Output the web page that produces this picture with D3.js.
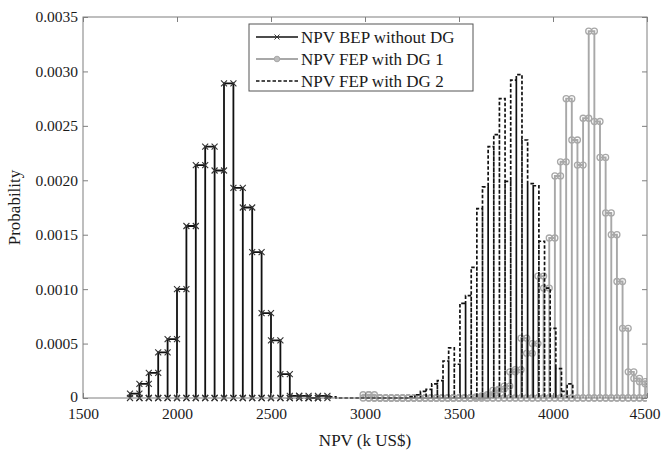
<!DOCTYPE html>
<html lang="en">
<head>
<meta charset="utf-8">
<title>NPV probability</title>
<script src="https://d3js.org/d3.v7.min.js"></script>
<style>
  body { margin: 0; background: #fff; }
  text { font-family: "Liberation Serif", "Times New Roman", serif; fill: #1a1a1a; }
  .frame { fill: none; stroke: #7f7f7f; stroke-width: 1px; }
</style>
</head>
<body>
<div id="chart"></div>
<script>
var width = 661, height = 469;

// axis ticks
var xTicks = [1500, 2000, 2500, 3000, 3500, 4000, 4500];
var yTicks = [0, 0.0005, 0.0010, 0.0015, 0.0020, 0.0025, 0.0030, 0.0035];
var yTickLabels = ["0", "0.0005", "0.0010", "0.0015", "0.0020", "0.0025", "0.0030", "0.0035"];

// NPV BEP without DG : bins of 50 starting at 1750
var bepStart = 1750, bepWidth = 50;
var bepValues = [0.00004, 0.00013, 0.00023, 0.00042, 0.00054, 0.00100, 0.00158, 0.00214,
  0.00231, 0.00209, 0.00289, 0.00193, 0.00175, 0.00134, 0.00078, 0.00053, 0.00022,
  0.00002, 0.00002, 0, 0.00002];

// NPV FEP with DG 1 : bins of 30 starting at 2990
var fep1Start = 2990, fep1Width = 30;
var fep1Values = [0.00003, 0.00003, 0, 0, 0, 0, 0, 0, 0, 0, 0, 0, 0, 0, 0, 0, 0, 0, 0, 0,
  0.00001, 0.00002,
  0.00003, 0.00007, 0.00008, 0.00011, 0.00024, 0.00026, 0.00055, 0.00041, 0.00050,
  0.00112, 0.00101, 0.00147, 0.00204, 0.00217, 0.00275, 0.00237, 0.00214, 0.00257,
  0.00337, 0.00254, 0.00221, 0.00170, 0.00150, 0.00107, 0.00064, 0.00024, 0.00018,
  0.00015, 0.00013];

// NPV FEP with DG 2 : bins of 30 starting at 2785
var fep2Start = 2785, fep2Width = 30;
var fep2Values = [0, 0.00001, 0, 0, 0, 0, 0, 0, 0, 0, 0, 0, 0, 0, 0, 0.00001,
  0.00003, 0.00006, 0.00008, 0.00013, 0.00016, 0.00034, 0.00046, 0.00031, 0.00087,
  0.00094, 0.00120, 0.00174, 0.00194, 0.00231, 0.00242, 0.00275, 0.00199, 0.00292,
  0.00297, 0.00237, 0.00197, 0.00195, 0.00144, 0.00101, 0.00064, 0.00027, 0.00006,
  0.00013];

var legendLabels = ["NPV BEP  without DG", "NPV FEP with DG 1", "NPV FEP with DG 2"];

var svg = d3.select("#chart").append("svg")
    .attr("width", width)
    .attr("height", height);

var x = d3.scaleLinear().domain([1500, 4500]).range([83, 647]);
var y = d3.scaleLinear().domain([0, 0.0035]).range([398, 17]);

svg.append("defs").append("clipPath").attr("id", "plotclip")
  .append("rect")
    .attr("x", x(1500) - 4).attr("y", y(0.0035))
    .attr("width", x(4500) - x(1500) + 4).attr("height", y(0) - y(0.0035) + 4);

// outline vertices, bar by bar, like the original plot
function vertices(start, w, vals) {
  var pts = [];
  vals.forEach(function(v, i) {
    var x0 = start + i * w, x1 = x0 + w;
    pts.push([x0, 0], [x0, v], [x1, v], [x1, 0]);
  });
  return pts;
}

var line = d3.line().x(function(d) { return x(d[0]); }).y(function(d) { return y(d[1]); });

var plot = svg.append("g").attr("clip-path", "url(#plotclip)");

// series 1
var p1 = vertices(bepStart, bepWidth, bepValues);
plot.append("path").attr("d", line(p1))
  .attr("fill", "none").attr("stroke", "#111").attr("stroke-width", 1.8);
plot.append("g").selectAll("path").data(p1).enter().append("path")
  .attr("transform", function(d) { return "translate(" + x(d[0]) + "," + y(d[1]) + ")"; })
  .attr("d", "M-3,-3L3,3M-3,3L3,-3")
  .attr("stroke", "#333").attr("stroke-width", 1.1);

// series 2
var p2 = vertices(fep1Start, fep1Width, fep1Values);
plot.append("path").attr("d", line(p2))
  .attr("fill", "none").attr("stroke", "#a8a8a8").attr("stroke-width", 1.9);
plot.append("g").selectAll("circle").data(p2).enter().append("circle")
  .attr("cx", function(d) { return x(d[0]); })
  .attr("cy", function(d) { return y(d[1]); })
  .attr("r", 3)
  .attr("fill", "none").attr("stroke", "#a8a8a8").attr("stroke-width", 1.3);

// series 3
var p3 = vertices(fep2Start, fep2Width, fep2Values);
plot.append("path").attr("d", line(p3))
  .attr("fill", "none").attr("stroke", "#111").attr("stroke-width", 1.7)
  .attr("stroke-dasharray", "3.5,2");

// frame
svg.append("rect").attr("class", "frame")
  .attr("x", x(1500)).attr("y", y(0.0035))
  .attr("width", x(4500) - x(1500)).attr("height", y(0) - y(0.0035));

// axes, ticks pointing inward
var fontSize = "15.5px";
var xAxisG = svg.append("g")
  .attr("transform", "translate(0," + y(0) + ")")
  .call(d3.axisBottom(x).tickValues(xTicks).tickSize(-5).tickPadding(10).tickFormat(d3.format("d")));
xAxisG.select(".domain").remove();
xAxisG.selectAll("text").style("font-size", fontSize).attr("fill", "#1a1a1a");
// last label kept inside the picture
xAxisG.selectAll("text").filter(function(d) { return d === 4500; })
  .attr("text-anchor", "end").attr("x", 660 - x(4500));

var topG = svg.append("g")
  .attr("transform", "translate(0," + y(0.0035) + ")")
  .call(d3.axisTop(x).tickValues(xTicks).tickSize(-5).tickFormat(""));
topG.select(".domain").remove();

var yAxisG = svg.append("g")
  .attr("transform", "translate(" + x(1500) + ",0)")
  .call(d3.axisLeft(y).tickValues(yTicks).tickSize(-5).tickPadding(5)
    .tickFormat(function(d, i) { return yTickLabels[i]; }));
yAxisG.select(".domain").remove();
yAxisG.selectAll("text").style("font-size", fontSize).attr("fill", "#1a1a1a");
yAxisG.selectAll("text").filter(function(d) { return d === 0; }).attr("dy", "0.2em");

var rightG = svg.append("g")
  .attr("transform", "translate(" + x(4500) + ",0)")
  .call(d3.axisRight(y).tickValues(yTicks).tickSize(-5).tickFormat(""));
rightG.select(".domain").remove();
svg.selectAll(".tick line").attr("stroke", "#7f7f7f");

// axis titles
svg.append("text")
  .attr("x", (x(1500) + x(4500)) / 2).attr("y", 446)
  .attr("text-anchor", "middle").style("font-size", "17px")
  .text("NPV  (k US$)");
svg.append("text")
  .attr("transform", "translate(20," + (y(0) + y(0.0035)) / 2 + ") rotate(-90)")
  .attr("text-anchor", "middle").style("font-size", "17px")
  .text("Probability");

// legend
var lg = svg.append("g");
lg.append("rect").attr("x", 249).attr("y", 24).attr("width", 224).attr("height", 67)
  .attr("fill", "#fff").attr("stroke", "#555").attr("stroke-width", 1);
legendLabels.forEach(function(lab, i) {
  var cy = 37 + i * 22;
  var ln = lg.append("line").attr("x1", 256).attr("x2", 298).attr("y1", cy).attr("y2", cy)
    .attr("stroke-width", 1.7);
  if (i === 0) {
    ln.attr("stroke", "#111");
    lg.append("path").attr("d", "M-2.5,-2.5L2.5,2.5M-2.5,2.5L2.5,-2.5")
      .attr("transform", "translate(277," + cy + ")").attr("stroke", "#333");
  } else if (i === 1) {
    ln.attr("stroke", "#a8a8a8").attr("stroke-width", 1.9);
    lg.append("circle").attr("cx", 277).attr("cy", cy).attr("r", 2.8)
      .attr("fill", "#bdbdbd").attr("stroke", "#a8a8a8");
  } else {
    ln.attr("stroke", "#111").attr("stroke-dasharray", "3.5,2");
  }
  lg.append("text").attr("x", 301).attr("y", cy + 6).style("font-size", "17px").text(lab);
});
</script>
</body>
</html>
